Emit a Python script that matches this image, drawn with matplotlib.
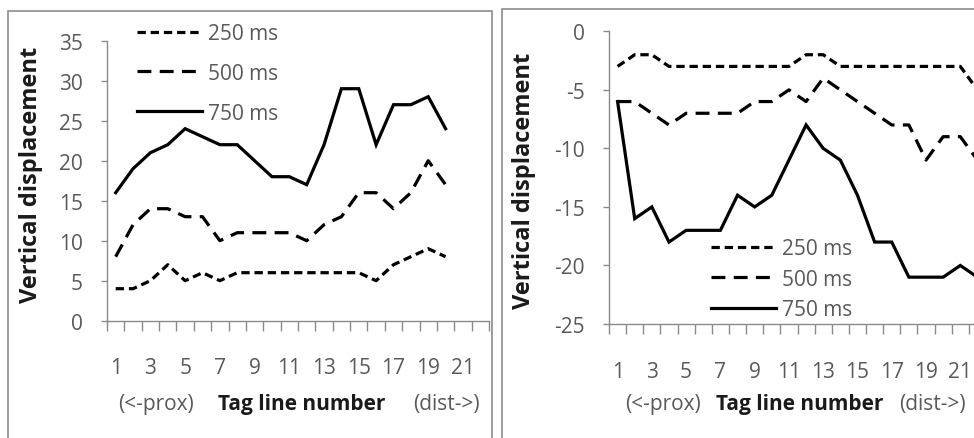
import matplotlib
matplotlib.use('Agg')
import matplotlib.pyplot as plt
from matplotlib.patches import Rectangle

plt.rcParams['font.family'] = ['Open Sans', 'DejaVu Sans']
plt.rcParams['lines.scale_dashes'] = False

W, H = 974, 439

# data
tags_left = list(range(1, 21))
left_250 = [4, 4, 5, 7, 5, 6, 5, 6, 6, 6, 6, 6, 6, 6, 6, 5, 7, 8, 9, 8]
left_500 = [8, 12, 14, 14, 13, 13, 10, 11, 11, 11, 11, 10, 12, 13, 16, 16, 14, 16, 20, 17]
left_750 = [16, 19, 21, 22, 24, 23, 22, 22, 20, 18, 18, 17, 22, 29, 29, 22, 27, 27, 28, 24]

tags_right = list(range(1, 23))
right_250 = [-3, -2, -2, -3, -3, -3, -3, -3, -3, -3, -3, -2, -2, -3, -3, -3, -3, -3, -3, -3, -3, -5]
right_500 = [-6, -6, -7, -8, -7, -7, -7, -7, -6, -6, -5, -6, -4, -5, -6, -7, -8, -8, -11, -9, -9, -11]
right_750 = [-6, -16, -15, -18, -17, -17, -17, -14, -15, -14, -11, -8, -10, -11, -14, -18, -18, -21, -21, -21, -20, -21]

labels = ['250 ms', '500 ms', '750 ms']
x_ticklabels = [str(i) for i in range(1, 22, 2)]

GRAY = '#595959'
AXIS = '#8a8a8a'
FS = 15


def box(x0, x1, y0, y1):
    # pixel box -> figure fraction
    return [x0 / W, 1 - y1 / H, (x1 - x0) / W, (y1 - y0) / H]


def draw(ax, x, series, ylim, yticks, xpad):
    l1, = ax.plot(x, series[0], color='black', lw=2.3, dashes=(6, 3.5),
                  dash_capstyle='butt')
    l2, = ax.plot(x, series[1], color='black', lw=2.3, dashes=(10, 6),
                  dash_capstyle='butt')
    l3, = ax.plot(x, series[2], color='black', lw=2.3, solid_joinstyle='miter')
    ax.set_xlim(0.5, 22.5)
    ax.set_ylim(*ylim)
    ax.set_yticks(yticks)
    ax.set_yticklabels([str(v) for v in yticks])
    # boundary ticks (no labels), labels on odd categories
    ax.set_xticks([i + 0.5 for i in range(0, 23)])
    ax.set_xticklabels([])
    ax.set_xticks(list(range(1, 22, 2)), minor=True)
    ax.set_xticklabels(x_ticklabels, minor=True)
    ax.tick_params(axis='x', which='major', length=7, width=1, color=AXIS)
    ax.tick_params(axis='x', which='minor', length=0, pad=xpad, labelsize=FS,
                   labelcolor=GRAY)
    ax.tick_params(axis='y', length=4.5, width=1, color=AXIS, pad=13,
                   labelsize=FS, labelcolor=GRAY)
    for s in ['top', 'right']:
        ax.spines[s].set_visible(False)
    for s in ['left', 'bottom']:
        ax.spines[s].set_color(AXIS)
        ax.spines[s].set_linewidth(1)
    ax.patch.set_alpha(0)
    return [l1, l2, l3]


fig = plt.figure(figsize=(W / 100, H / 100), dpi=100, facecolor='white')

# panel frames
fig.add_artist(Rectangle((8 / W, -0.05), 484 / W, 1.05 - 12 / H,
                         transform=fig.transFigure, fill=False,
                         edgecolor='#8c8c8c', lw=1.2))
fig.add_artist(Rectangle((502 / W, -0.05), 0.6, 1.05 - 10 / H,
                         transform=fig.transFigure, fill=False,
                         edgecolor='#8c8c8c', lw=1.2))

axL = fig.add_axes(box(107, 489, 41.7, 321.7))
linesL = draw(axL, tags_left, [left_250, left_500, left_750], (0, 35),
              list(range(0, 36, 5)), 26)

axR = fig.add_axes(box(609, 986, 32.3, 325))
linesR = draw(axR, tags_right, [right_250, right_500, right_750], (-25, 0),
              list(range(-25, 1, 5)), 27)

legL = axL.legend(linesL, labels, loc='upper left',
                  bbox_to_anchor=(137 / W, 1 - 24 / H),
                  bbox_transform=fig.transFigure, frameon=False,
                  borderpad=0, borderaxespad=0, handlelength=3.1,
                  handletextpad=0.3, labelspacing=0.9, fontsize=FS,
                  labelcolor=GRAY)
legR = axR.legend(linesR, labels, loc='upper left',
                  bbox_to_anchor=(711 / W, 1 - 239 / H),
                  bbox_transform=fig.transFigure, frameon=False,
                  borderpad=0, borderaxespad=0, handlelength=3.1,
                  handletextpad=0.3, labelspacing=0.46, fontsize=FS,
                  labelcolor=GRAY)

# axis titles
for xc, yc in [(31, 175), (524, 181)]:
    fig.text(xc / W, 1 - yc / H, 'Vertical displacement', rotation=90,
             ha='center', va='center', fontsize=17, fontweight='bold',
             color='#1a1a1a')

for (xp, xt, xd) in [(156, 302, 446), (663, 800, 932)]:
    y = 1 - 405 / H
    fig.text(xp / W, y, '(<-prox)', ha='center', va='center', fontsize=FS,
             color=GRAY)
    fig.text(xt / W, y, 'Tag line number', ha='center', va='center',
             fontsize=FS, fontweight='bold', color='#1a1a1a')
    fig.text(xd / W, y, '(dist->)', ha='center', va='center', fontsize=FS,
             color=GRAY)

fig.savefig('out.png', dpi=100, facecolor='white')
